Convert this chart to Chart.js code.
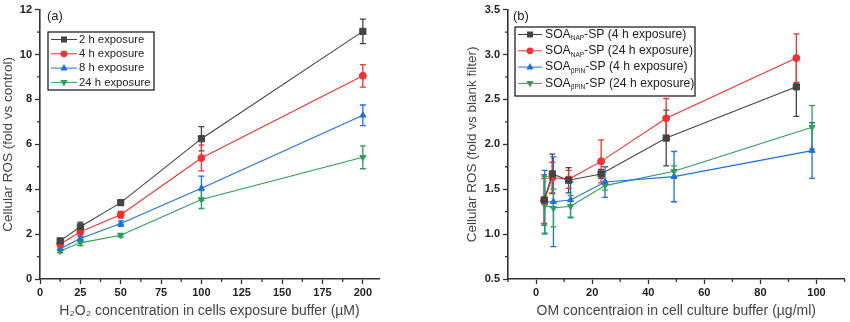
<!DOCTYPE html>
<html>
<head>
<meta charset="utf-8">
<script src="https://cdn.jsdelivr.net/npm/chart.js@4/dist/chart.umd.min.js"></script>
<style>
  body { margin: 0; background: #fff; }
  #wrap { position: relative; width: 850px; height: 322px; }
  canvas { position: absolute; top: 0; }
  #chartA { left: 0; }
  #chartB { left: 425px; }
</style>
</head>
<body>
<div id="wrap">
  <canvas id="chartA" width="425" height="322"></canvas>
  <canvas id="chartB" width="425" height="322"></canvas>
</div>
<script>
// ---- panel (a) data ----
var aDose = [12.5, 25, 50, 100, 200];
var a2h = [1.7, 2.33, 3.4, 6.25, 11.03];
var a2hErr = [0.1, 0.2, 0.1, 0.54, 0.55];
var a4h = [1.55, 2.1, 2.86, 5.39, 9.05];
var a4hErr = [0.1, 0.15, 0.15, 0.57, 0.5];
var a8h = [1.35, 1.8, 2.47, 4.04, 7.29];
var a8hErr = [0.08, 0.1, 0.12, 0.54, 0.46];
var a24h = [1.25, 1.61, 1.95, 3.54, 5.42];
var a24hErr = [0.08, 0.12, 0.08, 0.4, 0.51];
var aXTicks = [0, 25, 50, 75, 100, 125, 150, 175, 200];
var aYTicks = [0, 2, 4, 6, 8, 10, 12];

// ---- panel (b) data ----
var bNapConc = [2.9, 5.8, 11.6, 23.2, 46.4, 92.8];
var bPinConc = [3.1, 6.2, 12.3, 24.6, 49.2, 98.4];
var bNap4 = [1.38, 1.67, 1.6, 1.67, 2.07, 2.64];
var bNap4Err = [0.28, 0.22, 0.14, 0.05, 0.31, 0.33];
var bNap24 = [1.37, 1.63, 1.61, 1.81, 2.29, 2.96];
var bNap24Err = [0.25, 0.17, 0.1, 0.24, 0.22, 0.27];
var bPin4 = [1.36, 1.36, 1.38, 1.58, 1.64, 1.93];
var bPin4Err = [0.35, 0.5, 0.2, 0.17, 0.28, 0.31];
var bPin24 = [1.32, 1.29, 1.31, 1.54, 1.70, 2.19];
var bPin24Err = [0.32, 0.21, 0.12, 0.05, 0.06, 0.24];
var bXTicks = [0, 20, 40, 60, 80, 100];
var bYTicks = [0.5, 1.0, 1.5, 2.0, 2.5, 3.0, 3.5];

var FONT = "'Liberation Sans', Arial, sans-serif";
var AXIS = '#333';
var C_BLACK = '#444444', C_RED = '#ee3333', C_BLUE = '#1f6fe0', C_GREEN = '#2f9e58';

function pts(xs, ys) {
  return xs.map(function(x, i) { return { x: x, y: ys[i] }; });
}

function series(label, xs, ys, err, color, style, rot) {
  return {
    label: label,
    data: pts(xs, ys),
    errors: err,
    borderColor: color,
    backgroundColor: color,
    borderWidth: 1.1,
    pointStyle: style,
    rotation: rot || 0,
    pointRadius: style === 'rect' ? 4.4 : 3.5,
    pointBorderWidth: 1,
    showLine: true,
    tension: 0
  };
}

function fixTicks(list) {
  return function(scale) {
    scale.ticks = list.map(function(v) { return { value: v }; });
  };
}

// error bars under the markers
var errorBars = {
  id: 'errorBars',
  beforeDatasetsDraw: function(chart) {
    var ctx = chart.ctx, ys = chart.scales.y;
    chart.data.datasets.forEach(function(ds, di) {
      var meta = chart.getDatasetMeta(di);
      ctx.save();
      ctx.strokeStyle = ds.borderColor;
      ctx.lineWidth = 1.3;
      ds.data.forEach(function(p, i) {
        var px = meta.data[i].x;
        var top = ys.getPixelForValue(p.y + ds.errors[i]);
        var bot = ys.getPixelForValue(p.y - ds.errors[i]);
        ctx.beginPath();
        ctx.moveTo(px, top); ctx.lineTo(px, bot);
        ctx.moveTo(px - 3, top); ctx.lineTo(px + 3, top);
        ctx.moveTo(px - 3, bot); ctx.lineTo(px + 3, bot);
        ctx.stroke();
      });
      ctx.restore();
    });
  }
};

// minor ticks between the major ones
var minorTicks = {
  id: 'minorTicks',
  afterDraw: function(chart) {
    var o = chart.options.plugins.minorTicks;
    if (!o) return;
    var ctx = chart.ctx, xs = chart.scales.x, ys = chart.scales.y, a = chart.chartArea;
    ctx.save();
    ctx.strokeStyle = AXIS;
    ctx.lineWidth = 1.3;
    ctx.beginPath();
    o.x.forEach(function(v) {
      var px = xs.getPixelForValue(v);
      ctx.moveTo(px, a.bottom); ctx.lineTo(px, a.bottom + 3);
    });
    o.y.forEach(function(v) {
      var py = ys.getPixelForValue(v);
      ctx.moveTo(a.left, py); ctx.lineTo(a.left - 3, py);
    });
    ctx.stroke();
    ctx.restore();
  }
};

function drawMarker(ctx, style, rot, x, y, r) {
  ctx.beginPath();
  if (style === 'rect') {
    var s = r * 0.75;
    ctx.rect(x - s, y - s, 2 * s, 2 * s);
  } else if (style === 'circle') {
    ctx.arc(x, y, r * 0.85, 0, Math.PI * 2);
  } else {
    var d = rot ? -1 : 1;
    ctx.moveTo(x, y - d * r);
    ctx.lineTo(x - r * 0.9, y + d * r * 0.6);
    ctx.lineTo(x + r * 0.9, y + d * r * 0.6);
    ctx.closePath();
  }
  ctx.fill();
}

// boxed legend with subscript support, plus panel tag
var boxLegend = {
  id: 'boxLegend',
  afterDraw: function(chart) {
    var o = chart.options.plugins.boxLegend;
    if (!o) return;
    var ctx = chart.ctx;
    ctx.save();
    ctx.fillStyle = '#222';
    ctx.font = '13px ' + FONT;
    ctx.textBaseline = 'middle';
    ctx.fillText(o.tag, o.tagX, o.tagY);
    ctx.strokeStyle = '#111';
    ctx.lineWidth = 1.2;
    ctx.strokeRect(o.x, o.y, o.w, o.h);
    chart.data.datasets.forEach(function(ds, i) {
      var ry = o.rowY + i * o.rowGap;
      ctx.strokeStyle = ds.borderColor;
      ctx.fillStyle = ds.borderColor;
      ctx.lineWidth = 1;
      ctx.beginPath();
      ctx.moveTo(o.lineX0, ry); ctx.lineTo(o.lineX1, ry);
      ctx.stroke();
      drawMarker(ctx, ds.pointStyle, ds.rotation, (o.lineX0 + o.lineX1) / 2, ry, 4);
      // text, with _{...} as subscript
      var tx = o.textX;
      ctx.fillStyle = '#222';
      var parts = ds.label.split(/(_\{[^}]*\})/);
      parts.forEach(function(p) {
        if (!p) return;
        if (p.charAt(0) === '_') {
          var sub = p.slice(2, -1);
          ctx.font = '6.5px ' + FONT;
          ctx.fillText(sub, tx, ry + 4);
          tx += ctx.measureText(sub).width;
        } else {
          ctx.font = o.fontSize + 'px ' + FONT;
          ctx.fillText(p, tx, ry);
          tx += ctx.measureText(p).width;
        }
      });
    });
    ctx.restore();
  }
};

function axes(xMin, xMax, xTicks, yMin, yMax, yTicks, yWidth, xTitle, yTitle, yFmt) {
  var common = {
    grid: { drawOnChartArea: false, drawTicks: true, tickLength: 5, tickWidth: 1.3, tickColor: AXIS },
    border: { display: true, color: AXIS, width: 1.6 }
  };
  return {
    x: Object.assign({
      type: 'linear', min: xMin, max: xMax,
      afterBuildTicks: fixTicks(xTicks),
      afterFit: function(s) { s.height = 43; },
      ticks: { color: '#222', font: { family: FONT, size: 11, weight: 'bold' }, padding: 2 },
      title: { display: true, text: xTitle, color: '#444', font: { family: FONT, size: 14 }, padding: { top: 0, bottom: 2 } }
    }, common),
    y: Object.assign({
      type: 'linear', min: yMin, max: yMax,
      afterBuildTicks: fixTicks(yTicks),
      afterFit: function(s) { s.width = yWidth; },
      ticks: { color: '#222', font: { family: FONT, size: 11, weight: 'bold' }, padding: 3,
        callback: yFmt || function(v) { return v; } },
      title: { display: true, text: yTitle, color: '#444', font: { family: FONT, size: 13.5 }, padding: { top: 0, bottom: 0 } }
    }, common)
  };
}

new Chart(document.getElementById('chartA'), {
  type: 'scatter',
  data: {
    datasets: [
      series('2 h exposure', aDose, a2h, a2hErr, C_BLACK, 'rect'),
      series('4 h exposure', aDose, a4h, a4hErr, C_RED, 'circle'),
      series('8 h exposure', aDose, a8h, a8hErr, C_BLUE, 'triangle'),
      series('24 h exposure', aDose, a24h, a24hErr, C_GREEN, 'triangle', 180)
    ]
  },
  options: {
    responsive: false,
    animation: false,
    layout: { padding: { left: 0, right: 46, top: 8, bottom: 0 } },
    scales: axes(0, 210, aXTicks, 0, 12, aYTicks, 40,
      'H\u2082O\u2082 concentration in cells exposure buffer (\u00b5M)', 'Cellular ROS (fold vs control)'),
    plugins: {
      legend: { display: false },
      tooltip: { enabled: false },
      minorTicks: { x: [12.5, 37.5, 62.5, 87.5, 112.5, 137.5, 162.5, 187.5], y: [1, 3, 5, 7, 9, 11] },
      boxLegend: { tag: '(a)', tagX: 47, tagY: 16, x: 48, y: 32, w: 106, h: 58,
        rowY: 39.5, rowGap: 14.3, lineX0: 51, lineX1: 77, textX: 79, fontSize: 11.3 }
    }
  },
  plugins: [errorBars, minorTicks, boxLegend]
});

new Chart(document.getElementById('chartB'), {
  type: 'scatter',
  data: {
    datasets: [
      series('SOA_{NAP}-SP (4 h exposure)', bNapConc, bNap4, bNap4Err, C_BLACK, 'rect'),
      series('SOA_{NAP}-SP (24 h exposure)', bNapConc, bNap24, bNap24Err, C_RED, 'circle'),
      series('SOA_{\u03b2PIN}-SP (4 h exposure)', bPinConc, bPin4, bPin4Err, C_BLUE, 'triangle'),
      series('SOA_{\u03b2PIN}-SP (24 h exposure)', bPinConc, bPin24, bPin24Err, C_GREEN, 'triangle', 180)
    ]
  },
  options: {
    responsive: false,
    animation: false,
    layout: { padding: { left: 39, right: 2, top: 8, bottom: 0 } },
    scales: axes(-10, 110, bXTicks, 0.5, 3.5, bYTicks, 44,
      'OM concentraion in cell culture buffer (\u00b5g/ml)', 'Cellular ROS (fold vs blank filter)',
      function(v) { return v.toFixed(1); }),
    plugins: {
      legend: { display: false },
      tooltip: { enabled: false },
      minorTicks: { x: [-10, 10, 30, 50, 70, 90, 110], y: [0.75, 1.25, 1.75, 2.25, 2.75, 3.25] },
      boxLegend: { tag: '(b)', tagX: 88, tagY: 16, x: 90, y: 27, w: 180, h: 69,
        rowY: 34.5, rowGap: 16.3, lineX0: 93, lineX1: 117, textX: 120, fontSize: 12.2 }
    }
  },
  plugins: [errorBars, minorTicks, boxLegend]
});
</script>
</body>
</html>
